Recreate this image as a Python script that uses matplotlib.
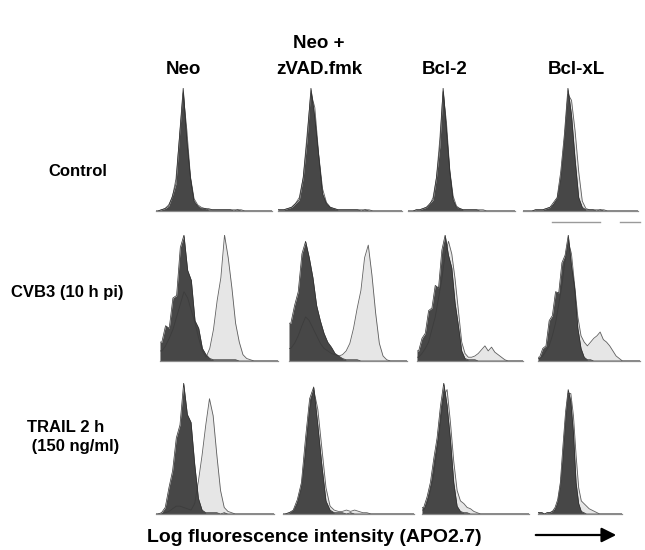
"""
Flow cytometry overlay grid: APO2.7 staining for Neo, Neo + zVAD.fmk,
Bcl-2 and Bcl-xL cells under control, CVB3 infection and TRAIL.
Histogram heights were read off the published figure (32 log bins).
"""

import numpy as np
import matplotlib
matplotlib.use("Agg")
import matplotlib.pyplot as plt

plt.rcParams["font.family"] = ["Liberation Sans", "DejaVu Sans"]

COLUMNS = ["Neo", "Neo +\nzVAD.fmk", "Bcl-2", "Bcl-xL"]
ROWS = ["Control", "CVB3 (10 h pi)", "TRAIL 2 h\n (150 ng/ml)"]
XLABEL = "Log fluorescence intensity (APO2.7)"

N_BINS = 32
CHANNELS = 1024

# dark = filled reference histogram, light = overlaid sample (% of panel max)
neo_ctrl_dark = [0, 1, 2, 4, 12, 22, 62, 100, 58, 27, 8, 4, 2, 2, 1, 1, 1, 1, 1, 1, 1, 0, 1, 0, 0, 0, 0, 0, 0, 0, 0, 0]
neo_ctrl_light = [0, 1, 2, 5, 11, 26, 60, 96, 66, 28, 10, 5, 3, 2, 2, 1, 1, 1, 1, 1, 1, 1, 1, 1, 0, 0, 0, 0, 0, 0, 0, 0]
zvad_ctrl_dark = [1, 1, 2, 3, 6, 9, 27, 58, 100, 76, 45, 14, 6, 3, 2, 1, 1, 1, 1, 1, 1, 0, 1, 0, 0, 0, 0, 0, 0, 0, 0, 0]
zvad_ctrl_light = [1, 1, 2, 3, 6, 11, 27, 62, 96, 84, 46, 18, 7, 3, 2, 1, 1, 1, 1, 1, 1, 1, 1, 1, 0, 0, 0, 0, 0, 0, 0, 0]
bcl2_ctrl_dark = [0, 0, 1, 1, 2, 3, 6, 9, 27, 52, 100, 66, 32, 9, 3, 2, 1, 1, 1, 1, 1, 0, 0, 0, 0, 0, 0, 0, 0, 0, 0, 0]
bcl2_ctrl_light = [0, 0, 1, 1, 2, 3, 5, 11, 27, 58, 97, 72, 33, 12, 4, 2, 1, 1, 1, 1, 1, 1, 1, 0, 0, 0, 0, 0, 0, 0, 0, 0]
bclxl_ctrl_dark = [0, 0, 0, 1, 1, 1, 2, 3, 7, 11, 32, 62, 100, 78, 42, 11, 3, 1, 1, 1, 0, 1, 0, 0, 0, 0, 0, 0, 0, 0, 0, 0]
bclxl_ctrl_light = [0, 0, 0, 1, 1, 1, 2, 3, 5, 10, 25, 55, 95, 90, 65, 32, 8, 2, 1, 1, 1, 1, 1, 0, 0, 0, 0, 0, 0, 0, 0, 0]

neo_cvb3_dark = [15, 28, 26, 50, 52, 90, 100, 72, 64, 32, 26, 10, 5, 2, 1, 1, 1, 1, 1, 1, 1, 0, 0, 0, 0, 0, 0, 0, 0, 0, 0, 0]
neo_cvb3_light = [8, 12, 18, 25, 35, 45, 55, 50, 40, 30, 18, 8, 3, 10, 25, 48, 66, 100, 82, 58, 30, 15, 5, 2, 1, 0, 0, 0, 0, 0, 0, 0]
zvad_cvb3_dark = [30, 44, 55, 85, 95, 82, 66, 44, 32, 22, 15, 11, 6, 4, 2, 1, 1, 1, 1, 0, 0, 0, 0, 0, 0, 0, 0, 0, 0, 0, 0, 0]
zvad_cvb3_light = [10, 14, 20, 28, 35, 32, 26, 20, 14, 10, 8, 6, 5, 4, 5, 8, 14, 26, 42, 56, 82, 92, 68, 38, 14, 4, 1, 0, 0, 0, 0, 0]
bcl2_cvb3_dark = [8, 18, 22, 40, 42, 60, 58, 88, 100, 84, 74, 46, 28, 8, 2, 1, 1, 1, 0, 0, 0, 0, 0, 0, 0, 0, 0, 0, 0, 0, 0, 0]
bcl2_cvb3_light = [3, 6, 10, 15, 25, 35, 50, 65, 85, 95, 85, 65, 40, 15, 6, 3, 3, 4, 6, 9, 12, 8, 11, 7, 5, 3, 1, 0, 0, 0, 0, 0]
bclxl_cvb3_dark = [3, 10, 12, 32, 36, 55, 54, 78, 84, 100, 76, 58, 26, 10, 3, 1, 1, 0, 0, 0, 0, 0, 0, 0, 0, 0, 0, 0, 0, 0, 0, 0]
bclxl_cvb3_light = [2, 4, 8, 12, 20, 30, 45, 60, 80, 95, 85, 60, 35, 20, 15, 12, 15, 18, 20, 23, 17, 15, 12, 8, 4, 2, 0, 0, 0, 0, 0, 0]

neo_trail_dark = [0, 1, 5, 20, 33, 58, 68, 100, 76, 70, 38, 12, 3, 1, 1, 1, 1, 0, 1, 0, 0, 0, 0, 0, 0, 0, 0, 0, 0, 0, 0, 0]
neo_trail_light = [0, 0, 1, 2, 4, 6, 6, 5, 4, 3, 8, 25, 45, 68, 88, 75, 45, 18, 5, 2, 1, 0, 0, 0, 0, 0, 0, 0, 0, 0, 0, 0]
zvad_trail_dark = [0, 1, 3, 11, 24, 58, 88, 97, 68, 37, 10, 3, 1, 1, 1, 0, 1, 0, 0, 0, 0, 0, 0, 0, 0, 0, 0, 0, 0, 0, 0, 0]
zvad_trail_light = [0, 1, 2, 8, 20, 45, 80, 95, 80, 50, 20, 6, 3, 2, 2, 3, 2, 3, 2, 1, 1, 0, 0, 0, 0, 0, 0, 0, 0, 0, 0, 0]
bcl2_trail_dark = [5, 13, 24, 42, 58, 82, 100, 83, 57, 24, 6, 2, 1, 1, 0, 0, 0, 0, 0, 0, 0, 0, 0, 0, 0, 0, 0, 0, 0, 0, 0, 0]
bcl2_trail_light = [3, 8, 18, 30, 50, 70, 90, 95, 70, 40, 18, 10, 8, 5, 4, 2, 1, 0, 0, 0, 0, 0, 0, 0, 0, 0, 0, 0, 0, 0, 0, 0]
bclxl_trail_dark = [1, 1, 0, 1, 1, 2, 5, 11, 24, 52, 78, 95, 86, 62, 24, 8, 2, 1, 0, 0, 0, 0, 0, 0, 0, 0, 0, 0, 0, 0, 0, 0]
bclxl_trail_light = [1, 1, 0, 1, 1, 2, 3, 8, 20, 40, 70, 92, 92, 75, 45, 20, 10, 8, 6, 4, 3, 2, 1, 0, 0, 0, 0, 0, 0, 0, 0, 0]

HISTS = [
    [(neo_ctrl_dark, neo_ctrl_light), (zvad_ctrl_dark, zvad_ctrl_light),
     (bcl2_ctrl_dark, bcl2_ctrl_light), (bclxl_ctrl_dark, bclxl_ctrl_light)],
    [(neo_cvb3_dark, neo_cvb3_light), (zvad_cvb3_dark, zvad_cvb3_light),
     (bcl2_cvb3_dark, bcl2_cvb3_light), (bclxl_cvb3_dark, bclxl_cvb3_light)],
    [(neo_trail_dark, neo_trail_light), (zvad_trail_dark, zvad_trail_light),
     (bcl2_trail_dark, bcl2_trail_light), (bclxl_trail_dark, bclxl_trail_light)],
]

# panel boxes in image pixels: (x_left, x_right) per column, (top, baseline) per row
W, H = 645, 550
PANEL_X = [
    [(156, 272), (278, 402), (408, 515), (523, 638)],
    [(160, 278), (289, 407), (417, 523), (538, 640)],
    [(156, 274), (283, 414), (422, 529), (538, 622)],
]
PANEL_Y = [(88, 211), (235, 361), (383, 514)]

DARK = "#474747"
LIGHT = "#e6e6e6"


def fx(px):
    return px / W


def fy(py):
    return 1 - py / H


def draw_panel(fig, box_x, box_y, dark, light):
    x0, x1 = box_x
    top, base = box_y
    ax = fig.add_axes([fx(x0), fy(base), fx(x1) - fx(x0), fy(top) - fy(base)])
    edges = np.linspace(0, CHANNELS, N_BINS + 1)
    centers = (edges[:-1] + edges[1:]) / 2
    xs = np.r_[0, centers, CHANNELS]
    d = np.r_[dark[0], dark, dark[-1]]
    l = np.r_[light[0], light, light[-1]]
    ax.fill_between(xs, 0, l, color=LIGHT, lw=0)
    ax.fill_between(xs, 0, d, color=DARK, lw=0)
    ax.plot(xs, l, color="#3a3a3a", lw=0.6, alpha=0.8)
    ax.plot(xs, d, color="#2e2e2e", lw=0.5)
    ax.set_xlim(0, CHANNELS)
    ax.set_ylim(0, 100)
    for side in ("top", "left", "right"):
        ax.spines[side].set_visible(False)
    ax.spines["bottom"].set_color("#8a8a8a")
    ax.spines["bottom"].set_linewidth(0.9)
    ax.set_xticks([])
    ax.set_yticks([])
    ax.patch.set_alpha(0)
    return ax


fig = plt.figure(figsize=(W / 100, H / 100), dpi=100)

for r in range(3):
    for c in range(4):
        dark, light = HISTS[r][c]
        draw_panel(fig, PANEL_X[r][c], PANEL_Y[r], dark, light)

# column headers
HEADER_X = [183, 319, 445, 576]
for x, label in zip(HEADER_X, COLUMNS):
    lines = label.split("\n")
    for k, line in enumerate(reversed(lines)):
        fig.text(fx(x), fy(69 - 25 * k), line, ha="center", va="center",
                 fontsize=13.5, fontweight="bold")

# row labels
fig.text(fx(78), fy(172), ROWS[0], ha="center", va="center",
         fontsize=12, fontweight="bold")
fig.text(fx(67), fy(293), ROWS[1], ha="center", va="center",
         fontsize=12, fontweight="bold")
fig.text(fx(27), fy(437), ROWS[2], ha="left", va="center",
         fontsize=12, fontweight="bold", linespacing=1.3)

# stray gray marks under the Bcl-xL control panel
fig.add_artist(plt.Line2D([fx(552), fx(600)], [fy(222), fy(222)],
                          color="#9a9a9a", lw=1))
fig.add_artist(plt.Line2D([fx(620), fx(640)], [fy(222), fy(222)],
                          color="#9a9a9a", lw=1))

fig.text(fx(147), fy(538), XLABEL, ha="left", va="center",
         fontsize=14, fontweight="bold")
plt.annotate("", xy=(fx(619), fy(535)), xytext=(fx(533), fy(535)),
             xycoords="figure fraction", textcoords="figure fraction",
             arrowprops=dict(arrowstyle="-|>", color="black", lw=1.6,
                             mutation_scale=22))

fig.savefig("out.png", dpi=100)
